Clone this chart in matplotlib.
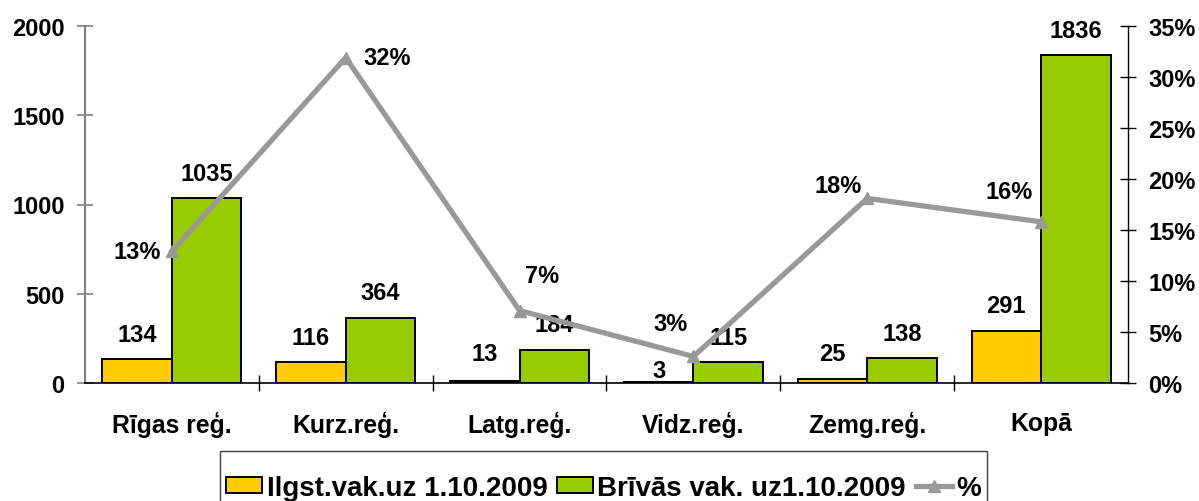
import matplotlib
matplotlib.use("Agg")
import matplotlib.pyplot as plt
import numpy as np
from matplotlib.ticker import PercentFormatter, FixedLocator
from matplotlib.lines import Line2D
from matplotlib.patches import Patch, Rectangle

# ---- data ----
categories = ["Rīgas reģ.", "Kurz.reģ.", "Latg.reģ.", "Vidz.reģ.", "Zemg.reģ.", "Kopā"]
ilgst = [134, 116, 13, 3, 25, 291]
brivas = [1035, 364, 184, 115, 138, 1836]
percent = [12.9, 31.9, 7.1, 2.6, 18.1, 15.8]
percent_labels = ["13%", "32%", "7%", "3%", "18%", "16%"]
series_names = ["Ilgst.vak.uz 1.10.2009", "Brīvās vak. uz1.10.2009", "%"]

# ---- style ----
plt.rcParams['font.family'] = ['Liberation Sans', 'DejaVu Sans']
plt.rcParams['font.weight'] = 'bold'
FS = 17
YELLOW = "#FFCC00"
GREEN = "#99CC00"
LINEGREY = "#999999"

W, H = 1199, 502
fig = plt.figure(figsize=(W/100, H/100), dpi=100)
ax = fig.add_axes([85/W, 1-384/H, (1128-85)/W, (384-27)/H])
ax2 = ax.twinx()

x = np.arange(len(categories))
w = 0.4
ax.bar(x - w/2, ilgst, w, color=YELLOW, edgecolor="black", linewidth=1.4, zorder=2)
ax.bar(x + w/2, brivas, w, color=GREEN, edgecolor="black", linewidth=1.4, zorder=2)

ax.set_xlim(-0.5, len(categories) - 0.5)
ax.set_ylim(0, 2000)
ax.set_yticks([0, 500, 1000, 1500, 2000])
ax2.set_ylim(0, 35)
ax2.set_yticks(np.arange(0, 36, 5))
ax2.yaxis.set_major_formatter(PercentFormatter(decimals=0))

# spines
ax.spines['top'].set_visible(False)
ax2.spines['top'].set_visible(False)
ax.spines['left'].set_color("#808080")
ax.spines['left'].set_linewidth(1.5)
ax2.spines['left'].set_visible(False)
ax2.spines['bottom'].set_visible(False)
ax.spines['right'].set_visible(False)
ax2.spines['right'].set_color("black")
ax2.spines['right'].set_linewidth(1.0)
ax.spines['bottom'].set_color("black")
ax.spines['bottom'].set_linewidth(1.2)

ax.tick_params(axis='y', direction='inout', length=11.5, width=1.2, color="#808080",
               pad=9, labelsize=FS)
ax2.tick_params(axis='y', direction='inout', length=11.5, width=1.0, color="black",
                pad=9, labelsize=FS)
ax.set_xticks(x)
ax.set_xticklabels(categories)
ax.tick_params(axis='x', which='major', length=0, pad=20.5, labelsize=17.8)
ax.xaxis.set_minor_locator(FixedLocator(np.arange(0.5, len(categories) - 0.5, 1)))
ax.tick_params(axis='x', which='minor', direction='inout', length=11.5, width=1.0, color="black")
for lab in ax.get_xticklabels() + ax.get_yticklabels() + ax2.get_yticklabels():
    lab.set_fontweight('bold')

# bar value labels
off1 = [13, 13, 15, 4, 13, 13.5]
for xi, v, o in zip(x, ilgst, off1):
    ax.annotate(str(v), (xi - w/2, v), xytext=(0, o), textcoords='offset points',
                ha='center', va='baseline', fontsize=FS, fontweight='bold')
for xi, v in zip(x, brivas):
    ax.annotate(str(v), (xi + w/2, v), xytext=(0, 13.5), textcoords='offset points',
                ha='center', va='baseline', fontsize=FS, fontweight='bold')

# line on secondary axis
ax2.plot(x, percent, color=LINEGREY, linewidth=3.8, marker='^', markersize=9,
         markeredgecolor=LINEGREY, zorder=5, solid_joinstyle='miter')

# percent labels (offsets in points)
pct_off = [(-8, 0, 'right'), (13, 0, 'left'), (4, 25, 'left'),
           (-4, 24, 'right'), (-4, 9.5, 'right'), (-6, 22, 'right')]
for xi, p, lab, (dx, dy, ha) in zip(x, percent, percent_labels, pct_off):
    ax2.annotate(lab, (xi, p), xytext=(dx, dy), textcoords='offset points',
                 ha=ha, va='center', fontsize=FS, fontweight='bold', zorder=6)

ax.set_zorder(ax2.get_zorder() - 1)
ax.patch.set_visible(True)
ax2.patch.set_visible(False)

# legend
LFS = 20
handles = [Patch(facecolor=YELLOW, edgecolor='black', linewidth=1.4),
           Patch(facecolor=GREEN, edgecolor='black', linewidth=1.4),
           Line2D([0], [0], color=LINEGREY, linewidth=3.8, marker='^', markersize=9)]
leg = fig.legend(handles, series_names, loc='center',
                 bbox_to_anchor=(603.5/W, 1-489/H), ncol=3, frameon=False,
                 fontsize=LFS, handlelength=1.3, handleheight=0.5, handletextpad=0.15,
                 columnspacing=0.35, borderpad=0.2, borderaxespad=0)
for t in leg.get_texts():
    t.set_fontweight('bold')

fig.canvas.draw()
bb = leg.get_window_extent()
frame = Rectangle((bb.x0 - 1, -20), bb.width + 2, (H - 452) + 20,
                  transform=None, fill=False, edgecolor='#404040', linewidth=1.0)
fig.add_artist(frame)

fig.savefig("out.png", dpi=100)
